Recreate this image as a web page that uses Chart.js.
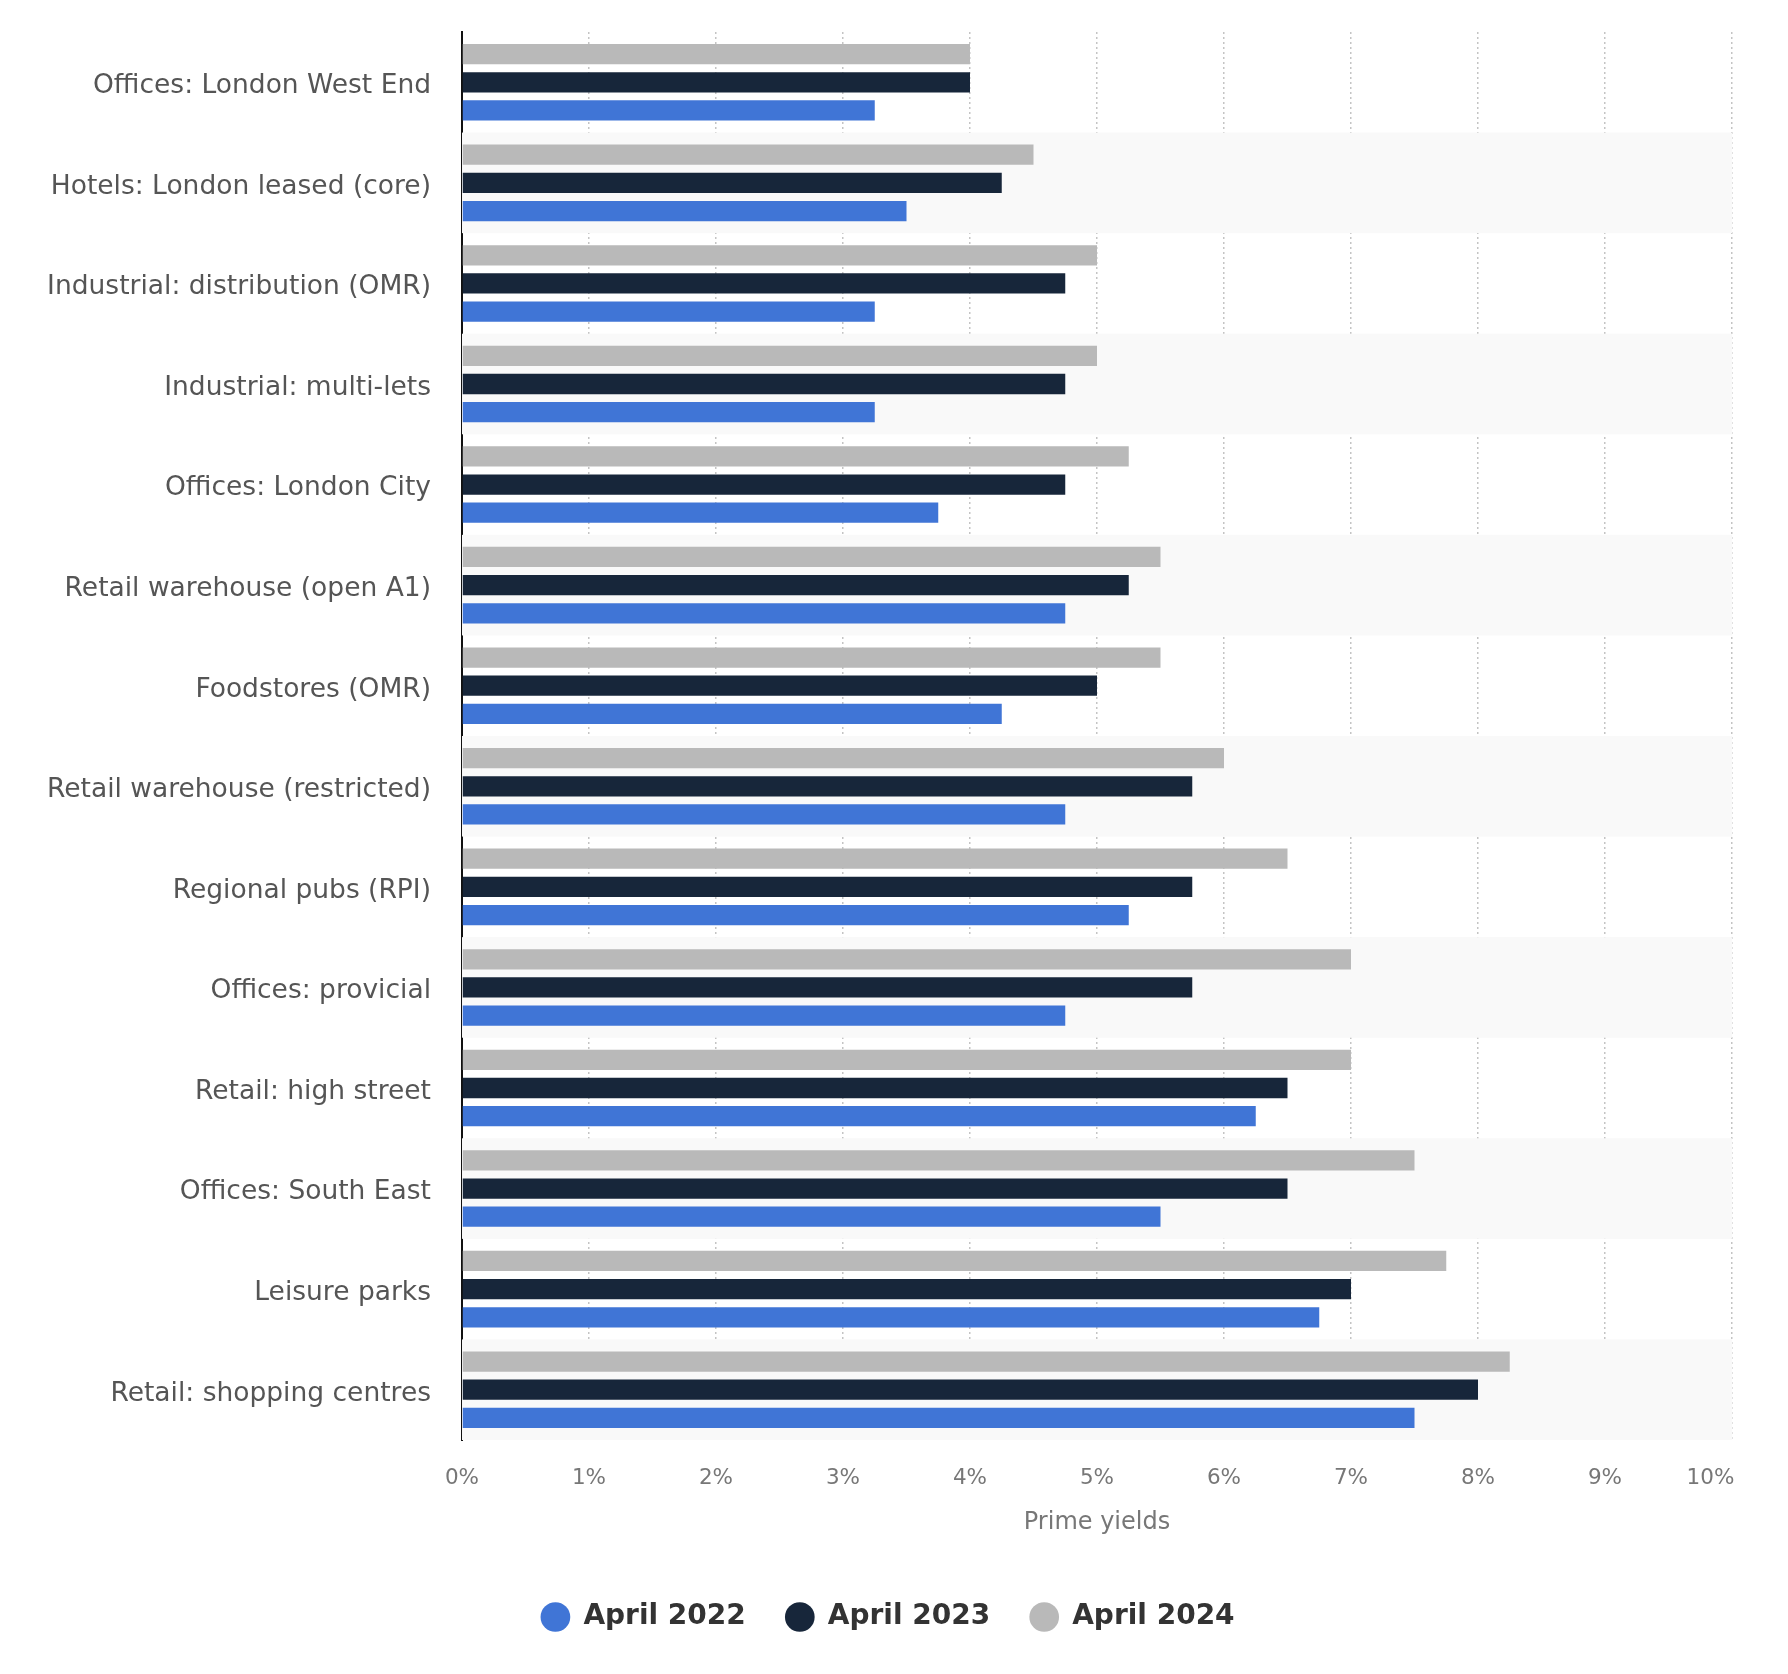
<!DOCTYPE html>
<html>
<head>
<meta charset="utf-8">
<script src="https://cdn.jsdelivr.net/npm/chart.js@4"></script>
<style>
  html, body { margin: 0; padding: 0; background: #fff; }
  #wrap { width: 1788px; height: 1674px; }
</style>
</head>
<body>
<div id="wrap"><canvas id="myChart" width="1788" height="1674"></canvas></div>
<script>
const categories = [
  "Offices: London West End",
  "Hotels: London leased (core)",
  "Industrial: distribution (OMR)",
  "Industrial: multi-lets",
  "Offices: London City",
  "Retail warehouse (open A1)",
  "Foodstores (OMR)",
  "Retail warehouse (restricted)",
  "Regional pubs (RPI)",
  "Offices: provicial",
  "Retail: high street",
  "Offices: South East",
  "Leisure parks",
  "Retail: shopping centres"
];

const april2022 = [3.25, 3.5, 3.25, 3.25, 3.75, 4.75, 4.25, 4.75, 5.25, 4.75, 6.25, 5.5, 6.75, 7.5];
const april2023 = [4, 4.25, 4.75, 4.75, 4.75, 5.25, 5, 5.75, 5.75, 5.75, 6.5, 6.5, 7, 8];
const april2024 = [4, 4.5, 5, 5, 5.25, 5.5, 5.5, 6, 6.5, 7, 7, 7.5, 7.75, 8.25];

const xTicks = [0, 1, 2, 3, 4, 5, 6, 7, 8, 9, 10];

const FONT = "'DejaVu Sans', 'Noto Sans', sans-serif";

// light stripes behind every second category
const stripes = {
  id: "stripes",
  beforeDatasetsDraw(chart) {
    const { ctx, chartArea, scales } = chart;
    const y = scales.y;
    const step = (y.bottom - y.top) / categories.length;
    ctx.save();
    ctx.fillStyle = "#f9f9f9";
    categories.forEach((c, i) => {
      if (i % 2 === 1) {
        const mid = y.getPixelForValue(i);
        ctx.fillRect(chartArea.left, mid - step / 2, chartArea.right - chartArea.left, step);
      }
    });
    ctx.restore();
  }
};

const ctx = document.getElementById("myChart");

new Chart(ctx, {
  type: "bar",
  data: {
    labels: categories,
    datasets: [
      { label: "April 2024", data: april2024, backgroundColor: "#b9b9b9" },
      { label: "April 2023", data: april2023, backgroundColor: "#17263a" },
      { label: "April 2022", data: april2022, backgroundColor: "#4075d6" }
    ]
  },
  options: {
    indexAxis: "y",
    responsive: false,
    animation: false,
    categoryPercentage: 0.84,
    barPercentage: 0.72,
    layout: { padding: { top: 32, right: 56, left: 44, bottom: 33 } },
    scales: {
      x: {
        min: 0,
        max: 10,
        afterBuildTicks(scale) {
          scale.ticks = xTicks.map(v => ({ value: v }));
        },
        border: { display: false, dash: [2, 3] },
        grid: {
          color: "#c4c4c4",
          lineWidth: 1.5,
          drawTicks: false
        },
        ticks: {
          color: "#777",
          font: { family: FONT, size: 21.5 },
          padding: 26,
          // last label is pulled inside the plot edge like in the original
          callback: v => v === 10 ? v + "%\u2002\u2002\u2002\u2002" : v + "%"
        },
        title: {
          display: true,
          text: "Prime yields",
          color: "#777",
          font: { family: FONT, size: 24 },
          padding: { top: 10, bottom: 26 }
        },
        afterFit(scale) {
          scale.height = 123;
          scale.paddingLeft = 0;
          scale.paddingRight = 0;
        }
      },
      y: {
        z: 1,
        border: { display: true, color: "#111", width: 2 },
        grid: { display: false },
        ticks: {
          color: "#555",
          font: { family: FONT, size: 26.5 },
          padding: 23,
          labelOffset: 4
        },
        afterFit(scale) {
          scale.width = 418;
          scale.paddingTop = 0;
          scale.paddingBottom = 0;
        }
      }
    },
    plugins: {
      legend: {
        position: "bottom",
        reverse: true,
        labels: {
          usePointStyle: true,
          pointStyle: "circle",
          boxWidth: 28,
          boxHeight: 21,
          padding: 40,
          color: "#333",
          font: { family: FONT, size: 28, weight: "bold" }
        }
      },
      tooltip: { enabled: false }
    }
  },
  plugins: [stripes]
});
</script>
</body>
</html>
